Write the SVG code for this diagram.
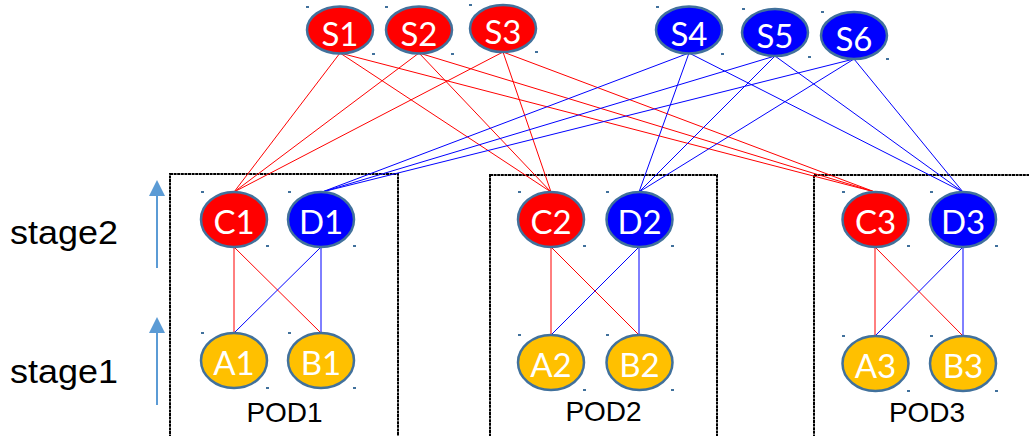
<svg xmlns="http://www.w3.org/2000/svg" width="1029" height="436" viewBox="0 0 1029 436">
<style>
.r{stroke:#ff0000;stroke-width:1;fill:none}
.b{stroke:#0000ff;stroke-width:1;fill:none}
.n ellipse{stroke:#41719c;stroke-width:2.5}
.red ellipse{fill:#ff0000}
.blue ellipse{fill:#0000ff}
.yel ellipse{fill:#ffc000}
.n text{font-family:Lato,"Open Sans",sans-serif;font-size:33px;fill:#fff;text-anchor:middle}
.h{fill:#41719c}
.pod{fill:none;stroke:#000;stroke-width:2;stroke-dasharray:3 0.6}
.lab{font-family:"Liberation Sans",Arial,sans-serif;font-size:28px;fill:#000;text-anchor:middle}
.stg{font-family:"Liberation Sans",Arial,sans-serif;font-size:33px;fill:#000}
.arr{stroke:#5b9bd5;stroke-width:2;fill:none}
</style>
<g id="pods">
<rect class="pod" x="170" y="174" width="228" height="280"/>
<rect class="pod" x="490" y="175" width="227" height="280"/>
<rect class="pod" x="814" y="175" width="240" height="280"/>
</g>
<g id="stages">
<text class="stg" x="10" y="244" textLength="108" lengthAdjust="spacingAndGlyphs">stage2</text>
<text class="stg" x="10" y="383" textLength="108" lengthAdjust="spacingAndGlyphs">stage1</text>
<line class="arr" x1="157" y1="268" x2="157" y2="194"/>
<polygon points="157,180 149,196 165,196" fill="#5b9bd5"/>
<line class="arr" x1="157" y1="405" x2="157" y2="331"/>
<polygon points="157,317 149,333 165,333" fill="#5b9bd5"/>
</g>
<g id="connectors">
<line class="r" x1="340" y1="53" x2="234" y2="192"/>
<line class="r" x1="340" y1="53" x2="551" y2="192"/>
<line class="r" x1="340" y1="53" x2="875" y2="192"/>
<line class="r" x1="419" y1="53" x2="234" y2="192"/>
<line class="r" x1="419" y1="53" x2="551" y2="192"/>
<line class="r" x1="419" y1="53" x2="875" y2="192"/>
<line class="r" x1="503" y1="52" x2="234" y2="192"/>
<line class="r" x1="503" y1="52" x2="551" y2="192"/>
<line class="r" x1="503" y1="52" x2="875" y2="192"/>
<line class="b" x1="689" y1="53" x2="322" y2="192"/>
<line class="b" x1="689" y1="53" x2="639" y2="192"/>
<line class="b" x1="689" y1="53" x2="963" y2="192"/>
<line class="b" x1="775" y1="56" x2="322" y2="192"/>
<line class="b" x1="775" y1="56" x2="639" y2="192"/>
<line class="b" x1="775" y1="56" x2="963" y2="192"/>
<line class="b" x1="854" y1="59" x2="322" y2="192"/>
<line class="b" x1="854" y1="59" x2="639" y2="192"/>
<line class="b" x1="854" y1="59" x2="963" y2="192"/>
<line class="r" x1="234" y1="247" x2="234" y2="333"/>
<line class="r" x1="234" y1="247" x2="321" y2="333"/>
<line class="b" x1="321" y1="247" x2="234" y2="333"/>
<line class="b" x1="321" y1="247" x2="321" y2="333"/>
<line class="r" x1="551" y1="247" x2="551" y2="335"/>
<line class="r" x1="551" y1="247" x2="639" y2="335"/>
<line class="b" x1="639" y1="247" x2="551" y2="335"/>
<line class="b" x1="639" y1="247" x2="639" y2="335"/>
<line class="r" x1="875" y1="247" x2="875" y2="336"/>
<line class="r" x1="875" y1="247" x2="963" y2="336"/>
<line class="b" x1="963" y1="247" x2="875" y2="336"/>
<line class="b" x1="963" y1="247" x2="963" y2="336"/>
</g>
<g id="S1" class="n red"><ellipse cx="340" cy="30" rx="33" ry="23.5"/><text x="340" y="45.5">S1</text><rect class="h" x="306" y="6" width="3" height="2"/><rect class="h" x="372" y="53" width="3" height="2"/></g>
<g id="S2" class="n red"><ellipse cx="419" cy="30" rx="33" ry="23.5"/><text x="419" y="45.5">S2</text><rect class="h" x="385" y="6" width="3" height="2"/><rect class="h" x="451" y="53" width="3" height="2"/></g>
<g id="S3" class="n red"><ellipse cx="503" cy="28.5" rx="33" ry="23.5"/><text x="503" y="44">S3</text><rect class="h" x="469" y="4" width="3" height="2"/><rect class="h" x="535" y="51" width="3" height="2"/></g>
<g id="S4" class="n blue"><ellipse cx="689" cy="30" rx="33" ry="23.5"/><text x="689" y="45.5">S4</text><rect class="h" x="656" y="6" width="3" height="2"/><rect class="h" x="721" y="53" width="3" height="2"/></g>
<g id="S5" class="n blue"><ellipse cx="775" cy="32.5" rx="33" ry="23.5"/><text x="775" y="48">S5</text><rect class="h" x="742" y="8" width="3" height="2"/><rect class="h" x="808" y="56" width="3" height="2"/></g>
<g id="S6" class="n blue"><ellipse cx="854" cy="35.5" rx="33" ry="23.5"/><text x="854" y="51">S6</text><rect class="h" x="821" y="11" width="3" height="2"/><rect class="h" x="886" y="58" width="3" height="2"/></g>
<g id="C1" class="n red"><ellipse cx="234" cy="219.5" rx="33" ry="27.5"/><text x="234" y="234">C1</text><rect class="h" x="201" y="191" width="3" height="2"/><rect class="h" x="266" y="245" width="3" height="2"/></g>
<g id="D1" class="n blue"><ellipse cx="321" cy="219.5" rx="33" ry="27.5"/><text x="321" y="234">D1</text><rect class="h" x="288" y="191" width="3" height="2"/><rect class="h" x="353" y="245" width="3" height="2"/></g>
<g id="C2" class="n red"><ellipse cx="551" cy="219.5" rx="33" ry="27.5"/><text x="551" y="234">C2</text><rect class="h" x="518" y="191" width="3" height="2"/><rect class="h" x="583" y="245" width="3" height="2"/></g>
<g id="D2" class="n blue"><ellipse cx="639.5" cy="219.5" rx="33" ry="27.5"/><text x="639.5" y="234">D2</text><rect class="h" x="606" y="191" width="3" height="2"/><rect class="h" x="671" y="245" width="3" height="2"/></g>
<g id="C3" class="n red"><ellipse cx="875.5" cy="219.5" rx="33" ry="27.5"/><text x="875.5" y="234">C3</text><rect class="h" x="842" y="191" width="3" height="2"/><rect class="h" x="907" y="245" width="3" height="2"/></g>
<g id="D3" class="n blue"><ellipse cx="963" cy="219.5" rx="33" ry="27.5"/><text x="963" y="234">D3</text><rect class="h" x="930" y="191" width="3" height="2"/><rect class="h" x="995" y="245" width="3" height="2"/></g>
<g id="A1" class="n yel"><ellipse cx="234" cy="360.5" rx="33" ry="27.5"/><text x="234" y="375">A1</text><rect class="h" x="201" y="332" width="3" height="2"/><rect class="h" x="266" y="387" width="3" height="2"/></g>
<g id="B1" class="n yel"><ellipse cx="321" cy="360.5" rx="33" ry="27.5"/><text x="321" y="375">B1</text><rect class="h" x="288" y="332" width="3" height="2"/><rect class="h" x="353" y="387" width="3" height="2"/></g>
<g id="A2" class="n yel"><ellipse cx="551" cy="362.5" rx="33" ry="27.5"/><text x="551" y="377">A2</text><rect class="h" x="518" y="334" width="3" height="2"/><rect class="h" x="583" y="389" width="3" height="2"/></g>
<g id="B2" class="n yel"><ellipse cx="639.5" cy="362.5" rx="33" ry="27.5"/><text x="639.5" y="377">B2</text><rect class="h" x="606" y="334" width="3" height="2"/><rect class="h" x="671" y="389" width="3" height="2"/></g>
<g id="A3" class="n yel"><ellipse cx="875.5" cy="363.5" rx="33" ry="27.5"/><text x="875.5" y="378">A3</text><rect class="h" x="842" y="335" width="3" height="2"/><rect class="h" x="907" y="390" width="3" height="2"/></g>
<g id="B3" class="n yel"><ellipse cx="963" cy="363.5" rx="33" ry="27.5"/><text x="963" y="378">B3</text><rect class="h" x="930" y="335" width="3" height="2"/><rect class="h" x="995" y="390" width="3" height="2"/></g>
<g id="labels">
<text class="lab" x="284.5" y="422">POD1</text>
<text class="lab" x="603.5" y="421">POD2</text>
<text class="lab" x="927" y="422">POD3</text>
</g>
</svg>
